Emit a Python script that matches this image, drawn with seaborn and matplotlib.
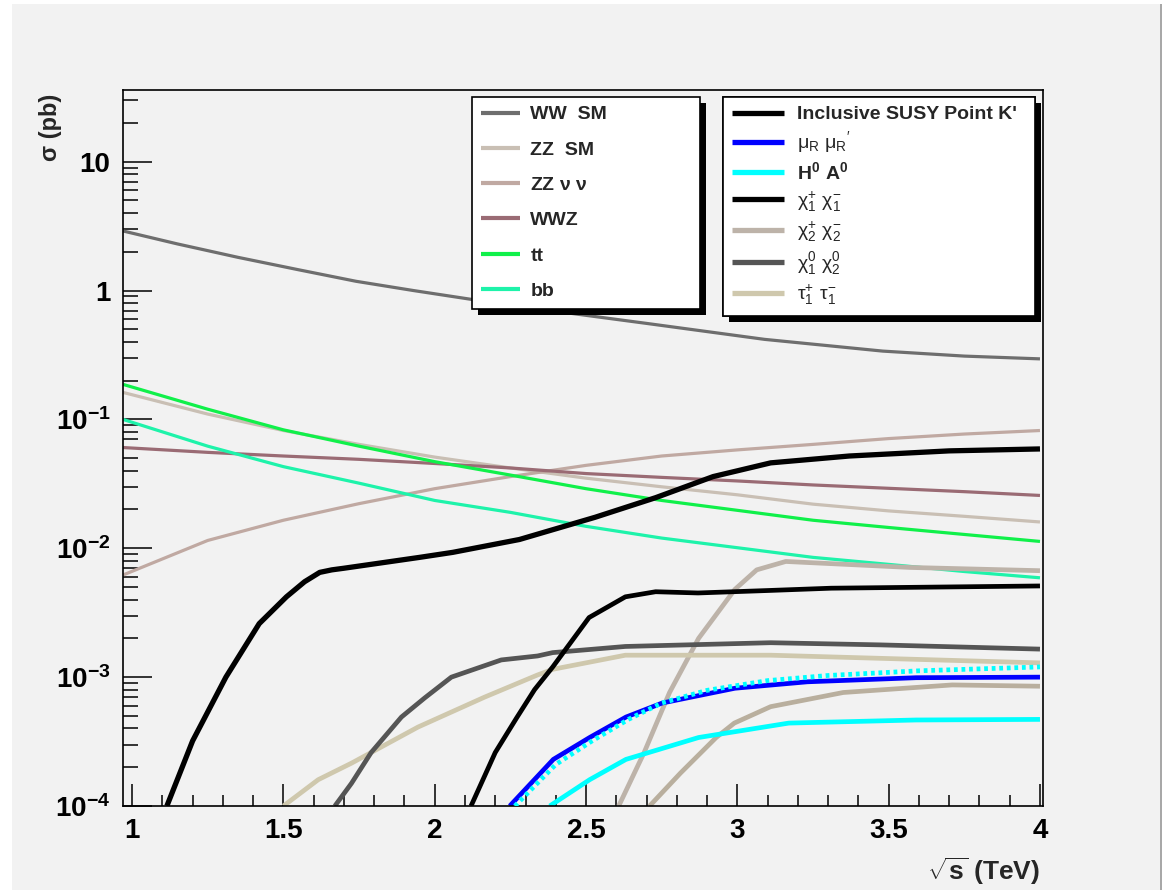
import matplotlib
matplotlib.use("Agg")
import matplotlib.pyplot as plt
import seaborn as sns
from matplotlib.patches import Rectangle
from matplotlib.ticker import FixedLocator, MultipleLocator, NullFormatter, FixedFormatter
from matplotlib.transforms import IdentityTransform

# ---------------- data ----------------
x_ww = [0.97, 1.15, 1.35, 1.55, 1.74, 1.93, 2.12, 2.4, 2.70, 3.09, 3.48, 3.75, 4.0]
ww_sm = [2.9, 2.3, 1.81, 1.45, 1.18, 1.0, 0.855, 0.69, 0.556, 0.418, 0.339, 0.31, 0.295]

x_sm = [0.97, 1.25, 1.5, 1.75, 2.0, 2.25, 2.5, 2.75, 3.0, 3.25, 3.5, 3.75, 4.0]
zz_sm = [0.162, 0.11, 0.082, 0.064, 0.051, 0.042, 0.035, 0.030, 0.026, 0.022, 0.0195, 0.0177, 0.016]
zz_nunu = [0.0062, 0.0115, 0.0165, 0.0222, 0.029, 0.036, 0.044, 0.052, 0.058, 0.064, 0.071, 0.077, 0.082]
wwz = [0.0605, 0.0555, 0.052, 0.049, 0.0455, 0.042, 0.038, 0.0355, 0.0333, 0.031, 0.0292, 0.0275, 0.0257]
tt = [0.187, 0.12, 0.083, 0.062, 0.047, 0.037, 0.029, 0.0235, 0.0197, 0.0165, 0.0145, 0.0128, 0.0113]
bb = [0.10, 0.062, 0.043, 0.032, 0.0235, 0.019, 0.0148, 0.012, 0.0101, 0.0085, 0.0075, 0.0066, 0.0059]

x_incl = [1.115, 1.20, 1.31, 1.42, 1.51, 1.57, 1.62, 1.66, 1.70, 1.95, 2.06, 2.28, 2.53, 2.73, 2.92, 3.11, 3.37, 3.70, 4.0]
incl = [1e-4, 3.2e-4, 1e-3, 2.6e-3, 4.2e-3, 5.5e-3, 6.5e-3, 6.8e-3, 7.0e-3, 8.5e-3, 9.3e-3, 0.0117, 0.0174, 0.0247, 0.036, 0.046, 0.052, 0.057, 0.059]

x_mur = [2.248, 2.392, 2.512, 2.632, 2.752, 2.992, 3.231, 3.591, 4.0]
mur = [1e-4, 2.3e-4, 3.4e-4, 4.9e-4, 6.3e-4, 8.2e-4, 9.2e-4, 9.9e-4, 1.0e-3]

x_hdot = [2.265, 2.4, 2.52, 2.64, 2.75, 2.9, 3.1, 3.3, 3.6, 4.0]
hdot = [1e-4, 2.1e-4, 3.2e-4, 4.7e-4, 6.3e-4, 7.9e-4, 9.4e-4, 1.03e-3, 1.12e-3, 1.2e-3]

x_ha = [2.38, 2.512, 2.632, 2.872, 3.17, 3.59, 4.0]
ha = [1e-4, 1.6e-4, 2.3e-4, 3.4e-4, 4.4e-4, 4.65e-4, 4.7e-4]

x_c1c1 = [2.12, 2.2, 2.27, 2.33, 2.39, 2.51, 2.63, 2.73, 2.87, 3.1, 3.31, 4.0]
c1c1 = [1e-4, 2.6e-4, 4.8e-4, 8e-4, 1.2e-3, 2.9e-3, 4.2e-3, 4.6e-3, 4.5e-3, 4.7e-3, 4.9e-3, 5.1e-3]

x_c2c2 = [2.608, 2.692, 2.776, 2.872, 2.992, 3.064, 3.16, 3.57, 4.0]
c2c2 = [1e-4, 2.6e-4, 7.6e-4, 2.0e-3, 4.8e-3, 6.8e-3, 7.9e-3, 7.1e-3, 6.7e-3]

x_n1n2 = [1.67, 1.725, 1.79, 1.89, 1.967, 2.055, 2.22, 2.34, 2.39, 2.63, 3.11, 3.47, 4.0]
n1n2 = [1e-4, 1.5e-4, 2.6e-4, 4.9e-4, 6.9e-4, 1e-3, 1.36e-3, 1.46e-3, 1.55e-3, 1.73e-3, 1.85e-3, 1.78e-3, 1.65e-3]

x_tau = [1.50, 1.615, 1.725, 1.945, 2.165, 2.34, 2.39, 2.63, 3.11, 3.47, 4.0]
tau = [1e-4, 1.6e-4, 2.15e-4, 4.1e-4, 7.0e-4, 1.04e-3, 1.15e-3, 1.48e-3, 1.48e-3, 1.4e-3, 1.29e-3]

x_other = [2.71, 2.812, 2.93, 2.99, 3.11, 3.35, 3.71, 4.0]
other = [1e-4, 1.8e-4, 3.4e-4, 4.4e-4, 5.9e-4, 7.6e-4, 8.7e-4, 8.5e-4]

x_ticks = [1, 1.5, 2, 2.5, 3, 3.5, 4]
x_tick_labels = ["1", "1.5", "2", "2.5", "3", "3.5", "4"]
y_ticks = [1e-4, 1e-3, 1e-2, 1e-1, 1, 10]
y_tick_labels = [r"$10^{-4}$", r"$10^{-3}$", r"$10^{-2}$", r"$10^{-1}$", "1", "10"]

sm_labels = ["WW  SM", "ZZ  SM", r"ZZ $\nu\ \nu$", "WWZ", "tt", "bb"]
susy_labels = ["Inclusive SUSY Point K'", r"$\mu_R\ \mu_R{}^{\prime}$", r"$H^0\ A^0$",
               r"$\chi_1^{+}\ \chi_1^{-}$", r"$\chi_2^{+}\ \chi_2^{-}$",
               r"$\chi_1^{0}\ \chi_2^{0}$", r"$\tau_1^{+}\ \tau_1^{-}$"]

# ---------------- style ----------------
sns.set_theme(style="ticks")
plt.rcParams["font.family"] = ["Liberation Sans", "DejaVu Sans"]
plt.rcParams["font.weight"] = "bold"
plt.rcParams["mathtext.fontset"] = "custom"
plt.rcParams["mathtext.rm"] = "Liberation Sans"
plt.rcParams["mathtext.it"] = "Liberation Sans"
plt.rcParams["mathtext.bf"] = "Liberation Sans:bold"
plt.rcParams["mathtext.default"] = "regular"

W, H = 1167, 893
fig = plt.figure(figsize=(W / 100, H / 100), dpi=100, facecolor="white")
fig.patches.append(Rectangle((12 / W, 3 / H), (1160 - 12) / W, (889 - 3) / H,
                             transform=fig.transFigure, facecolor="#f2f2f2",
                             edgecolor="none", zorder=-10))
fig.patches.append(Rectangle((1160 / W, 3 / H), 2 / W, (889 - 3) / H,
                             transform=fig.transFigure, facecolor="#a8a8a8",
                             edgecolor="none", zorder=-9))

ax = fig.add_axes([123 / W, 1 - 806 / H, 920 / W, 716 / H])
ax.set_facecolor("#f2f2f2")


def draw(x, y, color, lw, ls="-", z=2):
    sns.lineplot(x=x, y=y, ax=ax, color=color, lw=lw, linestyle=ls, zorder=z,
                 legend=False, estimator=None)
    line = ax.lines[-1]
    line.set_solid_capstyle("butt")
    line.set_solid_joinstyle("round")
    return line


lw_sm = 2.3
lw_su = 3.4
l_ww = draw(x_ww, ww_sm, "#6e6e6e", lw_sm)
l_zz = draw(x_sm, zz_sm, "#c9bfb4", lw_sm)
l_zn = draw(x_sm, zz_nunu, "#c0a9a2", lw_sm)
l_wwz = draw(x_sm, wwz, "#9a6b74", lw_sm)
l_tt = draw(x_sm, tt, "#10f04a", lw_sm)
l_bb = draw(x_sm, bb, "#1ef3aa", lw_sm)

l_other = draw(x_other, other, "#b9af9e", lw_su)
l_c2 = draw(x_c2c2, c2c2, "#bdb3a9", lw_su)
l_tau = draw(x_tau, tau, "#cfc8ad", lw_su)
l_n1 = draw(x_n1n2, n1n2, "#555555", lw_su)
l_c1 = draw(x_c1c1, c1c1, "black", lw_su)
l_ha = draw(x_ha, ha, "#00ffff", lw_su)
l_mur = draw(x_mur, mur, "#0000ff", lw_su)
l_hd = draw(x_hdot, hdot, "#00ffff", lw_su, ls=(0, (0.8, 0.8)), z=3)
l_incl = draw(x_incl, incl, "black", 3.8)

# ---------------- axes ----------------
ax.set_yscale("log")
ax.set_xlim(0.97, 4.01)
ax.set_ylim(1e-4, 36)
ax.xaxis.set_major_locator(FixedLocator(x_ticks))
ax.xaxis.set_major_formatter(FixedFormatter(x_tick_labels))
ax.xaxis.set_minor_locator(MultipleLocator(0.1))
ax.yaxis.set_major_locator(FixedLocator(y_ticks))
ax.yaxis.set_major_formatter(FixedFormatter(y_tick_labels))
minor_y = [m * 10.0 ** e for e in range(-4, 2) for m in range(2, 10)]
ax.yaxis.set_minor_locator(FixedLocator(minor_y))
ax.yaxis.set_minor_formatter(NullFormatter())
ax.set_xlabel("")
ax.set_ylabel("")
ax.tick_params(axis="both", which="both", direction="in", top=False, right=False,
               colors="black", width=1.1, labelsize=20)
ax.tick_params(axis="x", which="major", length=16, pad=9)
ax.tick_params(axis="x", which="minor", length=8)
ax.tick_params(axis="y", which="major", length=21, pad=9)
ax.tick_params(axis="y", which="minor", length=11)
for sp in ax.spines.values():
    sp.set_visible(True)
    sp.set_color("black")
    sp.set_linewidth(1.2)

fig.text(1040 / W, 1 - 880 / H, r"$\sqrt{s}$ (TeV)", ha="right", va="baseline",
         fontsize=19, fontweight="bold")
fig.text(50 / W, 1 - 94 / H, "σ (pb)", rotation=90, ha="center", va="top",
         fontsize=17, fontweight="bold")

# ---------------- legends ----------------
leg1 = ax.legend([l_ww, l_zz, l_zn, l_wwz, l_tt, l_bb], sm_labels,
                 loc="upper left", bbox_to_anchor=(472 / W, 1 - 97 / H, 228 / W, 0),
                 bbox_transform=fig.transFigure, mode="expand", borderaxespad=0,
                 fancybox=False, framealpha=1, edgecolor="black", facecolor="white",
                 prop={"size": 14, "weight": "bold"}, handlelength=2.0,
                 handletextpad=0.55, borderpad=0.45, labelspacing=0.91)
leg1.get_frame().set_linewidth(1.2)
for h in leg1.legend_handles:
    h.set_linewidth(3.0)
ax.add_artist(leg1)

leg2 = ax.legend([l_incl, l_mur, l_ha, l_c1, l_c2, l_n1, l_tau], susy_labels,
                 loc="upper left", bbox_to_anchor=(723 / W, 1 - 97 / H, 312 / W, 0),
                 bbox_transform=fig.transFigure, mode="expand", borderaxespad=0,
                 fancybox=False, framealpha=1, edgecolor="black", facecolor="white",
                 prop={"size": 14, "weight": "bold"}, handlelength=2.7,
                 handletextpad=0.65, borderpad=0.45, labelspacing=0.31)
leg2.get_frame().set_linewidth(1.2)
for h in leg2.legend_handles:
    h.set_linewidth(3.8)
    h.set_linestyle("-")
for i, t in enumerate(leg2.get_texts()):
    t.set_fontweight("bold" if i in (0, 2) else "normal")
ax.add_artist(leg2)

fig.canvas.draw()
for lg in (leg1, leg2):
    bb_ = lg.get_window_extent()
    sh = Rectangle((bb_.x0 + 6, bb_.y0 - 6), bb_.width, bb_.height,
                   transform=IdentityTransform(), facecolor="black",
                   edgecolor="none", zorder=4.5, clip_on=False)
    ax.add_artist(sh)

fig.savefig("out.png", dpi=100, facecolor=fig.get_facecolor())
